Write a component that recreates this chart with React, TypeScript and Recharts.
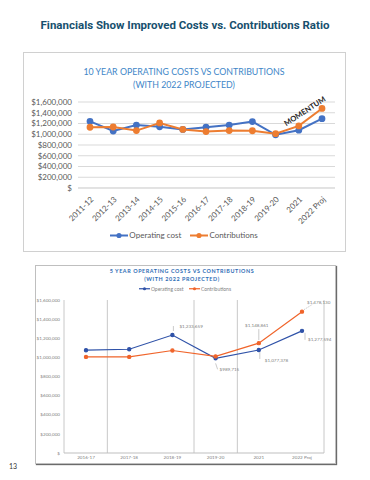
import React from 'react'
import { LineChart, Line, XAxis, YAxis, CartesianGrid, Legend, LabelList, ReferenceDot } from 'recharts'

const years10 = ['2011-12', '2012-13', '2013-14', '2014-15', '2015-16', '2016-17', '2017-18', '2018-19', '2019-20', '2021', '2022 Proj']
const opCost10 = [1240000, 1060000, 1170000, 1140000, 1090000, 1130000, 1170000, 1235000, 990000, 1075000, 1290000]
const contrib10 = [1130000, 1135000, 1068000, 1210000, 1090000, 1050000, 1068000, 1065000, 1010000, 1155000, 1480000]

const years5 = ['2016-17', '2017-18', '2018-19', '2019-20', '2021', '2022 Proj']
const opCost5 = [1075000, 1085000, 1233659, 989715, 1077378, 1277594]
const contrib5 = [1005000, 1005000, 1072000, 1010000, 1148861, 1478130]

const yTicks = [0, 200000, 400000, 600000, 800000, 1000000, 1200000, 1400000, 1600000]
const seriesOrder = ['Operating cost', 'Contributions']

const BLUE = '#4472C4'
const ORANGE = '#ED7D31'
const FONT = 'Lato, "Open Sans", sans-serif'

const money = (v: number) => (v === 0 ? '$' : '$' + v.toLocaleString('en-US'))
const byOrder = (item: any) => seriesOrder.indexOf(item.value)

const data10 = years10.map((year, i) => ({ year, op: opCost10[i], contrib: contrib10[i] }))
const data5 = years5.map((year, i) => ({ year, op: opCost5[i], contrib: contrib5[i] }))

// where the callouts sit relative to their point (only some points are labelled)
const opCallouts: Record<number, { dx: number; dy: number; anchor: 'start' | 'middle'; lead: [number, number, number, number]; dash?: boolean }> = {
  2: { dx: 7, dy: -9, anchor: 'start', lead: [1, -4, 1, -9] },
  3: { dx: 4, dy: 11, anchor: 'start', lead: [0, 5, 2, 11] },
  4: { dx: 6, dy: 10, anchor: 'start', lead: [1, 2, 1, 9] },
  5: { dx: 6, dy: 9, anchor: 'start', lead: [3, 2, 3, 9] },
}
const contribCallouts: typeof opCallouts = {
  4: { dx: -2, dy: -18, anchor: 'middle', lead: [0, -3, 0, -14] },
  5: { dx: 5, dy: -9, anchor: 'start', lead: [2, -2, 10, -7], dash: true },
}

function callout(table: typeof opCallouts) {
  return (props: any) => {
    const { x, y, value, index } = props
    const c = table[index]
    if (!c) return null
    return (
      <g>
        <line
          x1={x + c.lead[0]}
          y1={y + c.lead[1]}
          x2={x + c.lead[2]}
          y2={y + c.lead[3]}
          stroke="#a6a6a6"
          strokeWidth={0.6}
          strokeDasharray={c.dash ? '1.5 1' : undefined}
        />
        <text x={x + c.dx} y={y + c.dy} dy="0.35em" textAnchor={c.anchor} fontSize={4.6} fill="#7f7f7f" fontFamily={FONT}>
          {money(value)}
        </text>
      </g>
    )
  }
}

// Excel-style legend marker: line with a filled dot
function LegendRow({ payload, fontSize, color, w }: any) {
  const items = [...(payload || [])].sort((a: any, b: any) => byOrder(a) - byOrder(b))
  return (
    <div style={{ display: 'flex', justifyContent: 'center', gap: w * 0.5, fontSize, fontFamily: FONT, color }}>
      {items.map((it: any) => (
        <span key={it.value} style={{ display: 'inline-flex', alignItems: 'center', gap: 1 }}>
          <svg width={w} height={w * 0.5}>
            <line x1={0} x2={w} y1={w * 0.25} y2={w * 0.25} stroke={it.color} strokeWidth={w / 9} />
            <circle cx={w / 2} cy={w * 0.25} r={w / 7} fill={it.color} />
          </svg>
          {it.value}
        </span>
      ))}
    </div>
  )
}

function TenYearChart() {
  return (
    <LineChart width={322} height={200} data={data10} margin={{ top: 50, right: 10, left: 0, bottom: 0 }}>
      <CartesianGrid vertical={false} stroke="#d9d9d9" />
      <XAxis
        dataKey="year"
        interval={0}
        height={64}
        padding={{ left: 12, right: 13 }}
        axisLine={{ stroke: '#d9d9d9' }}
        tickLine={false}
        tick={{ angle: -45, textAnchor: 'end', fontSize: 8, fill: '#595959', fontFamily: FONT }}
      />
      <YAxis
        domain={[0, 1600000]}
        ticks={yTicks}
        interval={0}
        tickFormatter={money}
        width={55}
        tickMargin={0}
        axisLine={false}
        tickLine={false}
        tick={{ fontSize: 8, fill: '#595959', fontFamily: FONT }}
      />
      <Legend
        verticalAlign="middle"
        wrapperStyle={{ top: 178, left: 0, width: 322 }}
        content={(p: any) => <LegendRow payload={p.payload} fontSize={8} color="#595959" w={18} />}
      />
      <ReferenceDot
        x="2021"
        y={1430000}
        r={0}
        label={{ value: 'MOMENTUM', position: 'center', angle: -33, fontSize: 7.5, fontWeight: 700, fill: '#222', fontFamily: FONT, dx: 6 }}
      />
      <Line
        name="Operating cost"
        dataKey="op"
        stroke={BLUE}
        strokeWidth={2}
        dot={{ r: 2.4, fill: BLUE, stroke: BLUE }}
        isAnimationActive={false}
      />
      <Line
        name="Contributions"
        dataKey="contrib"
        stroke={ORANGE}
        strokeWidth={2}
        dot={{ r: 2.4, fill: ORANGE, stroke: ORANGE }}
        isAnimationActive={false}
      />
    </LineChart>
  )
}

function FiveYearChart() {
  const boundaries = ({ offset }: any) => {
    const step = offset.width / years5.length
    return [0, 1, 3, 4, 6].map((k) => offset.left + k * step)
  }
  return (
    <LineChart width={300} height={199} data={data5} margin={{ top: 35, right: 11, left: 0, bottom: 0 }}>
      <CartesianGrid horizontal={false} stroke="#c8c8c8" verticalCoordinatesGenerator={boundaries} />
      <XAxis
        dataKey="year"
        interval={0}
        height={11}
        padding={{ left: 22, right: 22 }}
        axisLine={{ stroke: '#bfbfbf' }}
        tickLine={false}
        tickSize={2}
        tickMargin={1}
        tick={{ fontSize: 4.6, fill: '#7f7f7f', fontFamily: FONT }}
      />
      <YAxis
        domain={[0, 1600000]}
        ticks={yTicks}
        interval={0}
        tickFormatter={money}
        width={29}
        tickSize={4}
        tickMargin={0}
        axisLine={false}
        tickLine={false}
        tick={{ fontSize: 4.6, fill: '#7f7f7f', fontFamily: FONT }}
      />
      <Legend
        verticalAlign="middle"
        wrapperStyle={{ top: 21, left: 0, width: 300 }}
        content={(p: any) => <LegendRow payload={p.payload} fontSize={5} color="#7f7f7f" w={11} />}
      />
      <Line
        name="Operating cost"
        dataKey="op"
        stroke="#2F52A8"
        strokeWidth={1.2}
        dot={{ r: 1.6, fill: '#2F52A8', stroke: '#2F52A8' }}
        isAnimationActive={false}
      >
        <LabelList dataKey="op" content={callout(opCallouts)} />
      </Line>
      <Line
        name="Contributions"
        dataKey="contrib"
        stroke="#F0642A"
        strokeWidth={1.2}
        dot={{ r: 1.6, fill: '#F0642A', stroke: '#F0642A' }}
        isAnimationActive={false}
      >
        <LabelList dataKey="contrib" content={callout(contribCallouts)} />
      </Line>
    </LineChart>
  )
}

export default function App() {
  return (
    <div style={{ position: 'absolute', left: 0, top: 0, width: 370, height: 480, background: '#fff', overflow: 'hidden' }}>
      <div
        style={{
          position: 'absolute',
          top: 18,
          left: 0,
          width: 370,
          textAlign: 'center',
          fontFamily: 'Roboto, sans-serif',
          fontWeight: 700,
          fontSize: 11.5,
          color: '#17506E',
          whiteSpace: 'nowrap',
        }}
      >
        Financials Show Improved Costs vs. Contributions Ratio
      </div>

      <div style={{ position: 'absolute', left: 23, top: 52, width: 321, height: 198, border: '1px solid #d0d0d0' }} />
      <div
        style={{
          position: 'absolute',
          top: 65,
          left: 23,
          width: 322,
          textAlign: 'center',
          fontFamily: FONT,
          fontSize: 8.8,
          lineHeight: '13px',
          color: '#3E86C8',
        }}
      >
        10 YEAR OPERATING COSTS VS CONTRIBUTIONS
        <br />
        (WITH 2022 PROJECTED)
      </div>
      <div style={{ position: 'absolute', left: 23, top: 52 }}>
        <TenYearChart />
      </div>

      <div
        style={{
          position: 'absolute',
          left: 35,
          top: 265,
          width: 299,
          height: 197,
          border: '1px solid #bfbfbf',
          boxShadow: '1px 1px 1px #6b6b6b',
        }}
      />
      <div
        style={{
          position: 'absolute',
          top: 267,
          left: 35,
          width: 294,
          textAlign: 'center',
          fontFamily: FONT,
          fontWeight: 700,
          fontSize: 5.4,
          lineHeight: '8px',
          letterSpacing: 0.6,
          color: '#2F6DB5',
        }}
      >
        5 YEAR OPERATING COSTS VS CONTRIBUTIONS
        <br />
        (WITH 2022 PROJECTED)
      </div>
      <div style={{ position: 'absolute', left: 35, top: 265 }}>
        <FiveYearChart />
      </div>

      <div style={{ position: 'absolute', left: 9, top: 462, fontFamily: FONT, fontSize: 7, color: '#333' }}>13</div>
    </div>
  )
}
